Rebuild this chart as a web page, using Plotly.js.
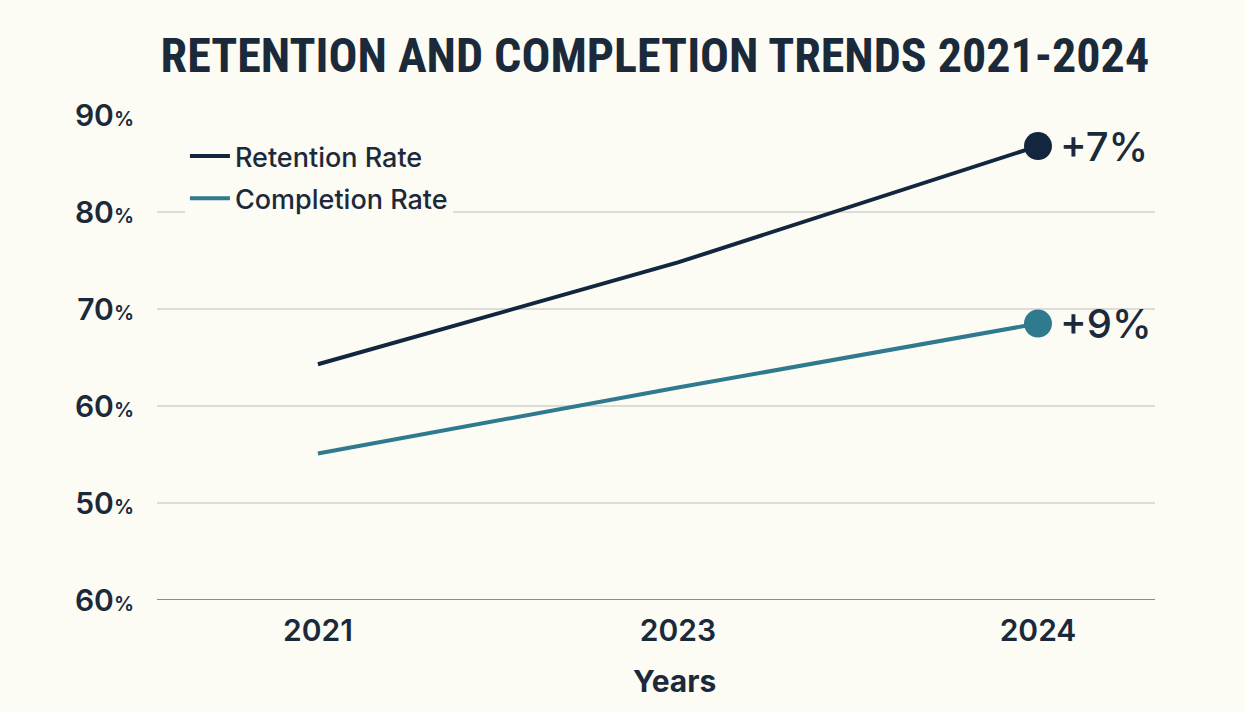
<!DOCTYPE html>
<html>
<head>
<meta charset="utf-8">
<script src="https://cdn.plot.ly/plotly-3.0.1.min.js"></script>
<style>html,body{margin:0;padding:0;background:#fcfbf4;}#chart{width:1245px;height:712px;}</style>
</head>
<body>
<div id="chart"></div>
<script>
const years = ["2021", "2023", "2024"];
const retentionRate = [64.3, 74.8, 86.8];
const completionRate = [55.1, 61.9, 68.5];
const yTickValues = [40, 50, 60, 70, 80, 90];
const yTickNumbers = ["60", "50", "60", "70", "80", "90"];
const endLabels = ["+7%", "+9%"];

const navy = "#12263d";
const teal = "#2f7a8e";
const textCol = "#1b2a3b";
const sans = "Inter, 'Open Sans', sans-serif";

const yTickText = yTickNumbers.map(n => n + "<span style='font-size:20px'>%</span>");

const last = years.length - 1;
const traces = [
  {x: years, y: retentionRate, type: "scatter", mode: "lines", name: "Retention Rate",
   line: {color: navy, width: 4}, legendgroup: "a", showlegend: true},
  {x: years, y: completionRate, type: "scatter", mode: "lines", name: "Completion Rate",
   line: {color: teal, width: 4}, legendgroup: "b", showlegend: true},
  {x: [years[last]], y: [retentionRate[last]], type: "scatter", mode: "markers",
   marker: {color: navy, size: 28}, showlegend: false, hoverinfo: "skip"},
  {x: [years[last]], y: [completionRate[last]], type: "scatter", mode: "markers",
   marker: {color: teal, size: 28}, showlegend: false, hoverinfo: "skip"}
];

const layout = {
  width: 1245, height: 712,
  paper_bgcolor: "#fcfbf4", plot_bgcolor: "#fcfbf4",
  margin: {l: 157, r: 90, t: 115, b: 112},
  title: {text: "<b>RETENTION AND COMPLETION TRENDS 2021-2024</b>",
    font: {family: "'Liberation Sans Narrow', 'Roboto Condensed', Roboto, sans-serif", size: 48, color: textCol},
    x: 0.526, xanchor: "center", y: 0.923, yanchor: "middle"},
  xaxis: {type: "category", range: [-0.447, 2.325], showgrid: false, zeroline: false,
    showline: false, ticks: "", tickfont: {family: sans, size: 30, color: textCol, weight: 600},
    ticklabelstandoff: 10},
  yaxis: {range: [40, 90], tickvals: yTickValues, ticktext: yTickText, showgrid: true,
    gridcolor: "#dedcd6", gridwidth: 1.5, zeroline: false, showline: false, ticks: "",
    ticklabelstandoff: 22,
    tickfont: {family: sans, size: 30, color: textCol, weight: 600}},
  legend: {x: 0.028, y: 0.965, xanchor: "left", yanchor: "top", bgcolor: "#fcfbf4",
    font: {family: sans, size: 27, color: textCol, weight: 500},
    tracegroupgap: 4, itemwidth: 40},
  shapes: [{type: "line", xref: "paper", yref: "y", x0: 0, x1: 1, y0: 40, y1: 40,
    line: {color: "#8c8c8c", width: 2}}],
  annotations: [
    {x: last, y: retentionRate[last], xref: "x", yref: "y", text: endLabels[0], showarrow: false, xanchor: "left",
     xshift: 20, font: {family: sans, size: 40, color: textCol, weight: 500}},
    {x: last, y: completionRate[last], xref: "x", yref: "y", text: endLabels[1], showarrow: false, xanchor: "left",
     xshift: 20, font: {family: sans, size: 40, color: textCol, weight: 500}},
    {x: 0.519, y: -0.167, xref: "paper", yref: "paper", xanchor: "center", yanchor: "middle",
     text: "<b>Years</b>", showarrow: false, font: {family: sans, size: 30, color: textCol}}
  ],
  showlegend: true
};

Plotly.newPlot("chart", traces, layout, {displayModeBar: false, staticPlot: true});
</script>
</body>
</html>
